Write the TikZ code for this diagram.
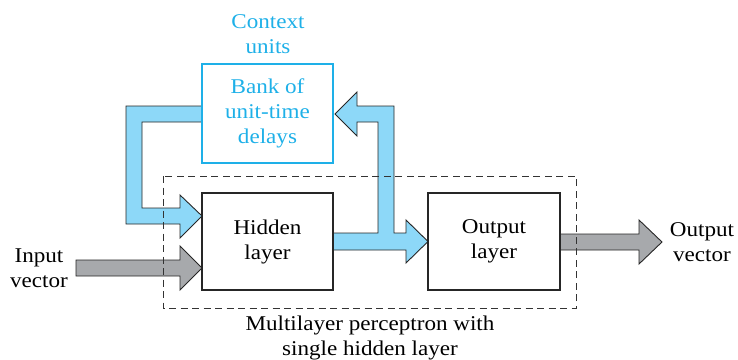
\documentclass[tikz,border=0pt]{standalone}
\usepackage{fontspec}
\setmainfont{Liberation Serif}[FakeStretch=1.1]
\definecolor{cyanline}{RGB}{30,176,232}
\definecolor{bluefill}{RGB}{141,216,248}
\definecolor{grayfill}{RGB}{167,169,172}
\begin{document}
\begin{tikzpicture}[x=1pt,y=-1pt,
  txt/.style={font=\fontsize{21}{25}\selectfont, align=center, inner sep=0pt},
  layerbox/.style={draw=black!85, line width=1.1pt, inner sep=0pt, txt},
  fatblue/.style={draw=black!85, line width=0.9pt, fill=bluefill, line join=miter},
  fatgray/.style={draw=black!85, line width=0.9pt, fill=grayfill, line join=miter}]
\useasboundingbox (0,0) rectangle (738,359);

% fat arrows
\draw[fatblue] (202,106) -- (126,106) -- (126,224) -- (180,224) -- (180,238) -- (202,216)
  -- (180,195) -- (180,208) -- (142,208) -- (142,122) -- (202,122) -- cycle;
\draw[fatblue] (333,233) -- (378,233) -- (378,122) -- (357,122) -- (357,136) -- (335,114)
  -- (357,92) -- (357,106) -- (394,106) -- (394,233) -- (406,233) -- (406,220)
  -- (428,241.5) -- (406,263) -- (406,250) -- (333,250) -- cycle;
\draw[fatgray] (76,260) -- (180,260) -- (180,246) -- (202,268) -- (180,290) -- (180,276)
  -- (76,276) -- cycle;
\draw[fatgray] (560,234) -- (639,234) -- (639,220) -- (662,242) -- (639,264) -- (639,250)
  -- (560,250) -- cycle;

% boxes
\node[layerbox, draw=cyanline, text=cyanline, minimum width=131pt, minimum height=99pt]
  (bank) at (267.5,113.5) {Bank of\\unit-time\\delays};
\node[layerbox, minimum width=131pt, minimum height=97pt] (hid) at (267.5,241.5) {Hidden\\layer};
\node[layerbox, minimum width=132pt, minimum height=97pt] (out) at (494,241.5) {Output\\layer};

% dashed enclosure
\draw[black!80, line width=1pt, dash pattern=on 7pt off 4.5pt] (163,176) rectangle (576,308);

% labels
\node[txt, text=cyanline] (ctx) at (268,34) {Context\\units};
\node[txt] (inlab) at (39,268) {Input\\vector};
\node[txt] (outlab) at (702,242) {Output\\vector};
\node[txt] (mlp) at (370,338) {Multilayer perceptron with\\single hidden layer};
\end{tikzpicture}
\end{document}
